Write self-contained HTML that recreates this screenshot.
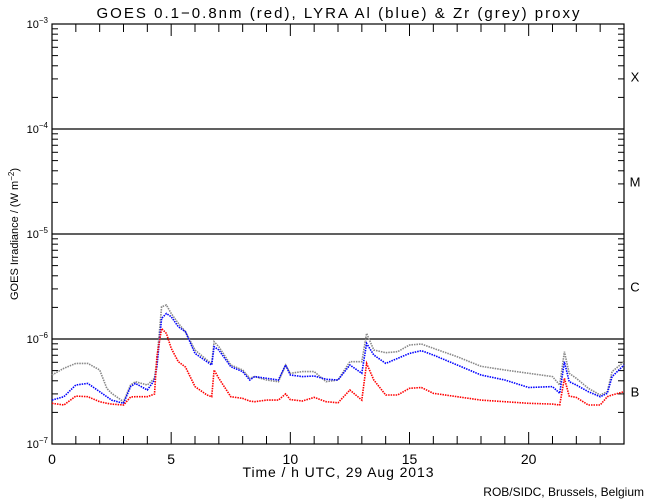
<!DOCTYPE html>
<html><head><meta charset="utf-8"><style>
body{margin:0;background:#fff;}
svg{display:block;font-family:"Liberation Sans",sans-serif;}
</style></head><body>
<svg id="chart" width="650" height="500">
<text x="338" y="18" text-anchor="middle" font-size="15" textLength="483" lengthAdjust="spacing">GOES 0.1−0.8nm (red), LYRA Al (blue) &amp; Zr (grey) proxy</text>
<g id="axes"></g>
<g id="series"></g>
<text x="338" y="477" text-anchor="middle" font-size="14" textLength="191" lengthAdjust="spacing">Time / h UTC, 29 Aug 2013</text>
<text transform="translate(18,234) rotate(-90)" text-anchor="middle" font-size="11">GOES Irradiance / (W m<tspan dy="-4" font-size="8">−2</tspan><tspan dy="4">)</tspan></text>
<text x="644" y="496" text-anchor="end" font-size="12">ROB/SIDC, Brussels, Belgium</text>
</svg>
<script>
const times=[0,0.5,1,1.5,2,2.3,2.5,3,3.3,3.5,4,4.3,4.4,4.6,4.8,5,5.3,5.6,6,6.5,6.7,6.8,7,7.5,8,8.3,8.5,9,9.5,9.8,10,10.5,11,11.5,12,12.5,13,13.2,13.5,14,14.5,15,15.5,16,17,18,19,20,21,21.3,21.5,21.7,22,22.5,23,23.3,23.5,24];
const goesRed=[2.44,2.35,2.86,2.82,2.53,2.44,2.40,2.35,2.80,2.82,2.82,2.99,6.8,12.6,11.3,8.15,6.08,5.4,3.52,2.93,2.82,5.07,4.22,2.82,2.72,2.56,2.53,2.62,2.62,3.00,2.65,2.57,2.78,2.53,2.47,3.27,2.62,5.86,4.07,2.93,2.93,3.39,3.45,3.04,2.82,2.62,2.53,2.44,2.40,2.35,4.22,2.86,2.78,2.35,2.35,2.82,2.93,3.15];
const lyraAlBlue=[2.62,2.82,3.65,3.78,3.15,2.82,2.62,2.44,3.52,3.78,3.27,4.07,5.45,15.7,17.5,16.3,13.1,11.7,7.30,6.08,5.65,8.45,7.85,5.45,4.89,4.07,4.38,4.22,4.07,5.65,4.54,4.38,4.44,4.13,4.07,5.65,4.71,9.09,7.04,5.86,6.54,7.30,7.74,7.04,5.65,4.54,4.07,3.45,3.52,3.04,6.08,3.92,3.65,3.15,2.82,3.04,4.38,5.65];
const lyraZrGrey=[4.54,5.26,5.86,5.86,5.07,3.39,3.04,2.53,3.65,3.92,3.65,4.22,6.31,20.3,21.1,17.5,14.1,11.7,7.85,6.31,5.86,9.43,8.45,5.65,5.07,4.22,4.38,4.07,3.92,5.65,4.71,4.89,4.89,3.92,4.07,6.08,6.08,11.3,7.85,7.41,7.57,8.77,8.96,8.15,6.79,5.5,5.07,4.71,4.38,3.65,7.57,4.71,4.22,3.39,2.93,3.15,4.89,6.08];
const valueScale=1e-7;
const xTicks=[0,5,10,15,20];
const yDecades=[-7,-6,-5,-4,-3];
const classLabels=["X","M","C","B"];
const classLogs=[-3.5,-4.5,-5.5,-6.5];

const L=52,R=624,T=24,B=444;
const NS="http://www.w3.org/2000/svg";
function xs(t){return L+(t/24)*(R-L);}
function ys(v){return B-(Math.log10(v)+7)/4*(B-T);}
function ysl(l){return B-(l+7)/4*(B-T);}
function mk(tag,attrs,parent){const e=document.createElementNS(NS,tag);for(const k in attrs)e.setAttribute(k,attrs[k]);parent.appendChild(e);return e;}
const ax=document.getElementById('axes');
let frame=mk('rect',{x:L,y:T,width:R-L,height:B-T,fill:'none',stroke:'#000','stroke-width':1.2},ax);


for(let h=0;h<=24;h++){
  const x=xs(h),len=(h%5===0)?12:8;
  let t1=mk('line',{x1:x,y1:B,x2:x,y2:B-len,stroke:'#000'},ax);
  
  
  let t2=mk('line',{x1:x,y1:T,x2:x,y2:T+len,stroke:'#000'},ax);
  
  
}
xTicks.forEach(h=>{
  let tx=mk('text',{x:xs(h),y:B+20,'text-anchor':'middle','font-size':14},ax);
  tx.textContent=h;
  
  
});
yDecades.forEach((d,i)=>{
  const y=ysl(d);
  if(d>-7&&d<-3){
    let gl=mk('line',{x1:L,y1:y,x2:R,y2:y,stroke:'#000','stroke-width':1.2},ax);
    
    
  }
  let tx=mk('text',{x:L-4,y:y+4,'text-anchor':'end','font-size':11},ax);
  tx.innerHTML='10<tspan dy="-5" font-size="8">'+(d<0?'−'+(-d):d)+'</tspan>';
  
  
  if(d<-3){
    for(let m=2;m<=9;m++){
      const yy=ysl(d+Math.log10(m));
      let a=mk('line',{x1:L,y1:yy,x2:L+6,y2:yy,stroke:'#000'},ax);
      
      
      let b=mk('line',{x1:R,y1:yy,x2:R-6,y2:yy,stroke:'#000'},ax);
      
      
    }
  }
});
classLabels.forEach((c,i)=>{
  let tx=mk('text',{x:635,y:ysl(classLogs[i])+5,'text-anchor':'middle','font-size':13},ax);
  tx.textContent=c;
  
  
});
const sg=document.getElementById('series');
[[lyraZrGrey,'#888','zr-grey-series'],[lyraAlBlue,'#0000ff','al-blue-series'],[goesRed,'#ff0000','goes-red-series']].forEach(s=>{
  const pts=times.map((t,i)=>xs(t).toFixed(1)+','+ys(s[0][i]*valueScale).toFixed(1)).join(' ');
  let p=mk('polyline',{points:pts,fill:'none',stroke:s[1],'stroke-width':1.6,'stroke-dasharray':'1.5 1'},sg);
  
  
});
</script>
</body></html>
